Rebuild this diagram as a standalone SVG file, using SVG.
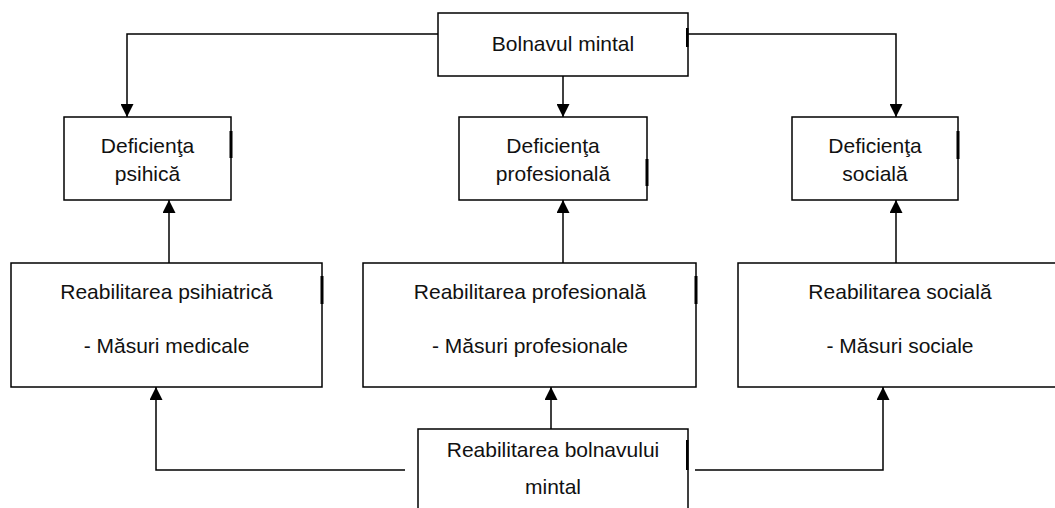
<svg xmlns="http://www.w3.org/2000/svg" width="1055" height="508" viewBox="0 0 1055 508">
<style>
  .box { fill: #ffffff; stroke: #000000; stroke-width: 1.5; }
  .mark { fill: #000000; }
  .lbl { font-family: "Liberation Sans", Arial, sans-serif; font-size: 21px; fill: #111111; text-anchor: middle; }
  .conn { fill: none; stroke: #000000; stroke-width: 1.5; }
</style>
<defs>
  <marker id="arrow" markerUnits="userSpaceOnUse" markerWidth="13" markerHeight="13" viewBox="0 0 13 13" refX="13" refY="6.5" orient="auto">
    <path d="M0,0 L13,6.5 L0,13 z" fill="#000000"/>
  </marker>
</defs>
<rect x="0" y="0" width="1055" height="508" fill="#ffffff"/>

<g id="connectors">
  <path class="conn" d="M438,34 H127 V117" marker-end="url(#arrow)"/>
  <path class="conn" d="M563,76 V117" marker-end="url(#arrow)"/>
  <path class="conn" d="M688,34 H896 V117" marker-end="url(#arrow)"/>
  <path class="conn" d="M169,263 V200" marker-end="url(#arrow)"/>
  <path class="conn" d="M563,263 V200" marker-end="url(#arrow)"/>
  <path class="conn" d="M896,263 V200" marker-end="url(#arrow)"/>
  <path class="conn" d="M551,429 V387" marker-end="url(#arrow)"/>
  <path class="conn" d="M405,470 H156 V387" marker-end="url(#arrow)"/>
  <path class="conn" d="M695,470 H883 V387" marker-end="url(#arrow)"/>
</g>

<g id="bolnavul-mintal">
  <rect class="box" x="438" y="13" width="250" height="63"/>
  <rect class="mark" x="686" y="28" width="2.5" height="19"/>
  <text class="lbl" x="563" y="51">Bolnavul mintal</text>
</g>

<g id="deficienta-psihica">
  <rect class="box" x="64" y="117" width="167" height="83"/>
  <rect class="mark" x="229.5" y="131" width="3" height="27"/>
  <text class="lbl" x="147.5" y="153">Deficienţa</text>
  <text class="lbl" x="147.5" y="181">psihică</text>
</g>

<g id="deficienta-profesionala">
  <rect class="box" x="459" y="117" width="188" height="83"/>
  <rect class="mark" x="645.5" y="159" width="3" height="27"/>
  <text class="lbl" x="553" y="153">Deficienţa</text>
  <text class="lbl" x="553" y="181">profesională</text>
</g>

<g id="deficienta-sociala">
  <rect class="box" x="792" y="117" width="166" height="83"/>
  <rect class="mark" x="956.5" y="131" width="3" height="28"/>
  <text class="lbl" x="875" y="153">Deficienţa</text>
  <text class="lbl" x="875" y="181">socială</text>
</g>

<g id="reabilitarea-psihiatrica">
  <rect class="box" x="11" y="263" width="311" height="124"/>
  <rect class="mark" x="320.5" y="276" width="3" height="28"/>
  <text class="lbl" x="166.5" y="299">Reabilitarea psihiatrică</text>
  <text class="lbl" x="166.5" y="353">- Măsuri medicale</text>
</g>

<g id="reabilitarea-profesionala">
  <rect class="box" x="363" y="263" width="333" height="124"/>
  <rect class="mark" x="694.5" y="276" width="3" height="28"/>
  <text class="lbl" x="530" y="299">Reabilitarea profesională</text>
  <text class="lbl" x="530" y="353">- Măsuri profesionale</text>
</g>

<g id="reabilitarea-sociala">
  <rect class="box" x="738" y="263" width="324" height="124"/>
  <text class="lbl" x="900" y="299">Reabilitarea socială</text>
  <text class="lbl" x="900" y="353">- Măsuri sociale</text>
</g>

<g id="reabilitarea-bolnavului-mintal">
  <rect class="box" x="418" y="429" width="270" height="90"/>
  <rect class="mark" x="686" y="440" width="2.5" height="30"/>
  <text class="lbl" x="553" y="457">Reabilitarea bolnavului</text>
  <text class="lbl" x="553" y="494">mintal</text>
</g>
</svg>
